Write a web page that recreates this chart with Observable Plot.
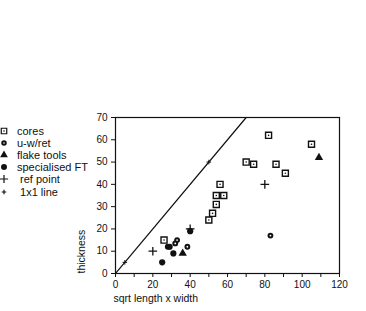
<!DOCTYPE html>
<html><head><meta charset="utf-8">
<script src="https://cdn.jsdelivr.net/npm/d3@7"></script>
<script src="https://cdn.jsdelivr.net/npm/@observablehq/plot@0.6"></script>
<style>
body{margin:0;background:#fff;}
#wrap{position:relative;width:366px;height:311px;font-family:"Liberation Sans",Arial,sans-serif;color:#111;}
#chart{position:absolute;left:0;top:0;}
#legend{position:absolute;left:0;top:0;font-size:11px;}
.row{position:absolute;left:0;height:12px;white-space:pre;line-height:12px;}
.row svg{position:absolute;left:0;top:0;overflow:visible;}
.row span{position:absolute;top:0;}
</style></head><body>
<div id="wrap"><div id="chart"></div><div id="legend"></div></div>
<script>
// Data
const coresX = [26, 50, 52, 54, 54, 58, 56, 70, 74, 82, 86, 91, 105];
const coresY = [15, 24, 27, 31, 35, 35, 40, 50, 49, 62, 49, 45, 58];
const uwretX = [28, 32, 33, 38.5, 83];
const uwretY = [12, 13.5, 15, 12, 17];
const flakeX = [36, 109];
const flakeY = [9, 52];
const specX = [25, 29, 31, 40];
const specY = [5, 12, 9, 19];
const refX = [20, 40, 80];
const refY = [10, 20, 40];
const oneX = [5, 50];
const oneY = [5, 50];
const lineX = [0, 70];
const lineY = [0, 70];
const legendLabels = ["cores", "u-w/ret", "flake tools", "specialised FT", " ref point", " 1x1 line"];
const xTicks = [0, 10, 20, 30, 40, 50, 60, 70, 80, 90, 100, 110, 120];
const yTicks = [0, 10, 20, 30, 40, 50, 60, 70];

const pts = (xs, ys) => xs.map((x, i) => ({x, y: ys[i]}));
const cores = pts(coresX, coresY);
const uwret = pts(uwretX, uwretY);
const flake = pts(flakeX, flakeY);
const spec = pts(specX, specY);
const ref = pts(refX, refY);
const one = pts(oneX, oneY);
const line = pts(lineX, lineY);

const chart = Plot.plot({
  width: 366,
  height: 311,
  marginLeft: 115,
  marginRight: 27,
  marginTop: 117,
  marginBottom: 38,
  style: {fontFamily: '"Liberation Sans", Arial, sans-serif', fontSize: "10px", color: "#111", background: "#fff"},
  x: {domain: [0, 120]},
  y: {domain: [0, 70]},
  marks: [
    Plot.axisX({ticks: xTicks, tickFormat: d => d % 20 === 0 ? String(d) : "", tickSize: 4, tickPadding: 3, label: null, style: {letterSpacing: "1.4px"}}),
    Plot.axisY({ticks: yTicks, tickSize: 4, tickPadding: 4, label: null, style: {letterSpacing: "0.6px"}}),
    Plot.frame({stroke: "#111", strokeWidth: 1.2}),
    Plot.line(line, {x: "x", y: "y", stroke: "#111", strokeWidth: 1.2, clip: true}),
    Plot.dot(one, {x: "x", y: "y", symbol: "plus", r: 1.6, stroke: "#111", strokeWidth: 1}),
    Plot.dot(ref, {x: "x", y: "y", symbol: "plus", r: 2.9, stroke: "#111", strokeWidth: 1.3}),
    Plot.dot(cores, {x: "x", y: "y", symbol: "square", r: 3.4, fill: "#fff", stroke: "#111", strokeWidth: 1.4}),
    Plot.dot(cores, {x: "x", y: "y", r: 0.8, fill: "#111"}),
    Plot.dot(uwret, {x: "x", y: "y", symbol: "circle", r: 2.9, fill: "#111"}),
    Plot.dot(uwret, {x: "x", y: "y", r: 0.9, fill: "#fff"}),
    Plot.dot(flake, {x: "x", y: "y", symbol: "triangle", r: 3.1, fill: "#111"}),
    Plot.dot(spec, {x: "x", y: "y", symbol: "circle", r: 3.1, fill: "#111"}),
    Plot.text(["sqrt length x width"], {frameAnchor: "bottom-left", textAnchor: "start", dx: -2, dy: 28, fontSize: 10.5, fill: "#111"}),
    Plot.text(["thickness"], {frameAnchor: "bottom-left", textAnchor: "start", rotate: -90, dx: -31, dy: 0, fontSize: 10.5, fill: "#111"})
  ]
});
document.getElementById("chart").appendChild(chart);

// Legend (HTML)
const legendSymbols = [
  {sym: d3.symbolSquare, size: 30, fill: "#fff", stroke: "#111", dot: "#111"},
  {sym: d3.symbolCircle, size: 24, fill: "#111", stroke: "none", dot: "#fff"},
  {sym: d3.symbolTriangle, size: 26, fill: "#111", stroke: "none", dot: null},
  {sym: d3.symbolCircle, size: 28, fill: "#111", stroke: "none", dot: null},
  {sym: d3.symbolPlus, size: 24, fill: "none", stroke: "#111", dot: null},
  {sym: d3.symbolPlus, size: 8, fill: "none", stroke: "#111", dot: null}
];
const legend = d3.select("#legend");
legendLabels.forEach((lab, i) => {
  const row = legend.append("div").attr("class", "row").style("top", (125 + i * 12.1) + "px");
  const s = legendSymbols[i];
  const svg = row.append("svg").attr("width", 10).attr("height", 12);
  svg.append("path").attr("transform", "translate(4,6)")
    .attr("d", d3.symbol(s.sym, s.size)())
    .attr("fill", s.fill).attr("stroke", s.stroke).attr("stroke-width", 1.2);
  if (s.dot) svg.append("circle").attr("cx", 4).attr("cy", 6).attr("r", 0.8).attr("fill", s.dot);
  row.append("span").style("left", "17px").text(lab);
});
</script>
</body></html>
